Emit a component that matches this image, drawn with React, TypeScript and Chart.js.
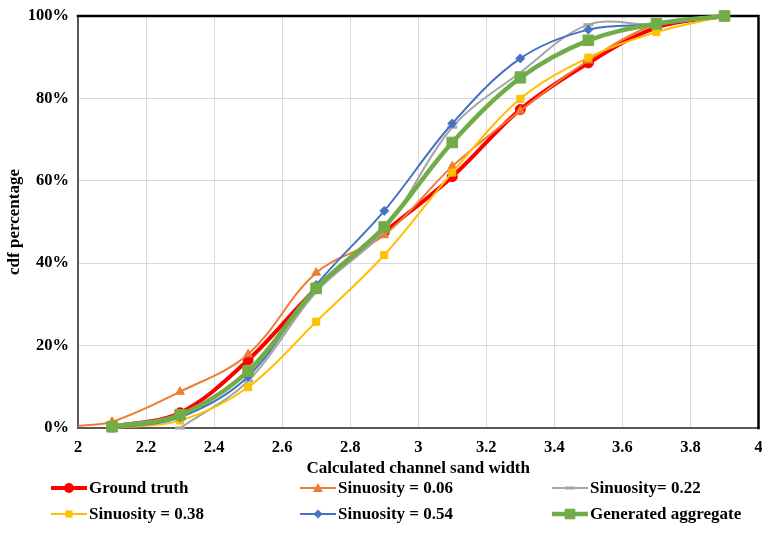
import React, { useEffect, useRef } from "react";
import { Chart, registerables } from "chart.js";

Chart.register(...registerables);

const FONT = '"Liberation Serif", "Times New Roman", serif';

// x positions of the data points
const xMain = [2.1, 2.3, 2.5, 2.7, 2.9, 3.1, 3.3, 3.5, 3.7, 3.9];
const xOrange = [2.0, 2.1, 2.3, 2.5, 2.7, 2.9, 3.1, 3.3, 3.5, 3.7, 3.9];
const xGray = [2.3, 2.5, 2.7, 2.9, 3.1, 3.3, 3.5, 3.7, 3.9];

// cdf values (%)
const groundTruth = [0.3, 3.7, 16.5, 33.8, 47.5, 61.0, 77.3, 88.6, 97.2, 100];
const sinuosity006 = [0.5, 1.5, 8.8, 17.9, 37.7, 46.8, 63.5, 77.0, 89.2, 98.0, 100];
const sinuosity022 = [0, 11.4, 33.0, 48.0, 73.0, 86.3, 97.9, 98.0, 100];
const sinuosity038 = [0, 1.8, 9.9, 25.8, 42.0, 62.0, 79.9, 89.9, 96.1, 100];
const sinuosity054 = [0, 2.6, 12.5, 34.7, 52.7, 73.9, 89.7, 96.7, 98.0, 100];
const aggregate = [0.3, 3.2, 13.8, 33.9, 48.8, 69.3, 85.0, 94.1, 98.1, 100];

const xTicks = [2, 2.2, 2.4, 2.6, 2.8, 3, 3.2, 3.4, 3.6, 3.8, 4];
const yTicks = [0, 20, 40, 60, 80, 100];

const pts = (xs: number[], ys: number[]) => xs.map((x, i) => ({ x, y: ys[i] }));

type Series = {
  label: string;
  color: string;
  width: number;
  style: string;
  radius: number;
  xs: number[];
  ys: number[];
};

const series: Series[] = [
  { label: "Ground truth", color: "#FF0000", width: 4, style: "circle", radius: 5, xs: xMain, ys: groundTruth },
  { label: "Sinuosity = 0.06", color: "#ED7D31", width: 2, style: "triangle", radius: 5, xs: xOrange, ys: sinuosity006 },
  { label: "Sinuosity= 0.22", color: "#A5A5A5", width: 2, style: "line", radius: 5, xs: xGray, ys: sinuosity022 },
  { label: "Sinuosity = 0.38", color: "#FFC000", width: 2, style: "rect", radius: 5, xs: xMain, ys: sinuosity038 },
  { label: "Sinuosity = 0.54", color: "#4472C4", width: 2, style: "rectRot", radius: 4.5, xs: xMain, ys: sinuosity054 },
  { label: "Generated aggregate", color: "#70AD47", width: 4.5, style: "rect", radius: 7.5, xs: xMain, ys: aggregate },
];

const borderPlugin = {
  id: "plotBorder",
  beforeDatasetsDraw(chart: any) {
    const { ctx, chartArea: a } = chart;
    ctx.save();
    ctx.lineCap = "square";
    ctx.lineWidth = 2;
    ctx.strokeStyle = "#595959";
    ctx.beginPath();
    ctx.moveTo(a.left, a.top);
    ctx.lineTo(a.left, a.bottom);
    ctx.lineTo(a.right, a.bottom);
    ctx.stroke();
    ctx.strokeStyle = "#000000";
    ctx.lineWidth = 2.5;
    ctx.beginPath();
    ctx.moveTo(a.left, a.top);
    ctx.lineTo(a.right, a.top);
    ctx.lineTo(a.right, a.bottom);
    ctx.stroke();
    ctx.restore();
  },
};

function LegendMarker({ s }: { s: Series }) {
  const cx = 18;
  const cy = 8;
  let marker: any = null;
  if (s.style === "circle") marker = <circle cx={cx} cy={cy} r={5} fill={s.color} />;
  else if (s.style === "triangle")
    marker = <polygon points={`${cx},${cy - 5} ${cx + 5},${cy + 4} ${cx - 5},${cy + 4}`} fill={s.color} />;
  else if (s.style === "line")
    marker = <rect x={cx - 5} y={cy - 1.5} width={10} height={3} fill={s.color} />;
  else if (s.style === "rectRot")
    marker = <polygon points={`${cx},${cy - 4.5} ${cx + 4.5},${cy} ${cx},${cy + 4.5} ${cx - 4.5},${cy}`} fill={s.color} />;
  else {
    const h = s.radius * Math.SQRT1_2;
    marker = <rect x={cx - h} y={cy - h} width={2 * h} height={2 * h} fill={s.color} />;
  }
  return (
    <svg width={36} height={16} style={{ display: "block" }}>
      <line x1={0} y1={cy} x2={36} y2={cy} stroke={s.color} strokeWidth={s.width} />
      {marker}
    </svg>
  );
}

const legendCols = [51, 300, 552];
const legendRows = [488, 514];

export default function App() {
  const ref = useRef<HTMLCanvasElement>(null);
  useEffect(() => {
    const chart = new Chart(ref.current!, {
      type: "line",
      data: {
        datasets: series.map((s, i) => ({
          label: s.label,
          data: pts(s.xs, s.ys),
          borderColor: s.color,
          backgroundColor: s.color,
          borderWidth: s.width,
          pointStyle: s.style as any,
          pointRadius: s.xs.map((x) => (x === 2.0 ? 0 : s.radius)),
          pointBorderWidth: s.style === "line" ? 3 : 1,
          pointBorderColor: s.color,
          pointBackgroundColor: s.color,
          tension: 0.35,
          fill: false,
          order: series.length - 1 - i,
          clip: 8,
        })),
      },
      options: {
        animation: false,
        responsive: true,
        maintainAspectRatio: false,
        layout: { padding: { top: 16, right: 4, left: 0, bottom: 56 } },
        plugins: { legend: { display: false }, tooltip: { enabled: false } },
        scales: {
          x: {
            type: "linear",
            min: 2,
            max: 4,
            afterBuildTicks: (s: any) => {
              s.ticks = xTicks.map((v) => ({ value: v }));
            },
            afterFit: (s: any) => {
              s.height = 52;
              s.paddingLeft = 0;
              s.paddingRight = 0;
            },
            ticks: {
              color: "#000",
              font: { family: FONT, size: 16.5, weight: "bold" },
              padding: 10,
              maxRotation: 0,
              autoSkip: false,
              callback: (v: any) => String(Math.round(Number(v) * 10) / 10),
            },
            grid: { color: "#d9d9d9", lineWidth: 1, drawTicks: false },
            border: { display: false },
            title: {
              display: true,
              text: "Calculated channel sand width",
              color: "#000",
              font: { family: FONT, size: 17, weight: "bold" },
              padding: { top: 0, bottom: 1 },
            },
          },
          y: {
            type: "linear",
            min: 0,
            max: 100,
            afterBuildTicks: (s: any) => {
              s.ticks = yTicks.map((v) => ({ value: v }));
            },
            afterFit: (s: any) => {
              s.width = 78;
              s.paddingTop = 0;
              s.paddingBottom = 0;
            },
            ticks: {
              color: "#000",
              font: { family: FONT, size: 16.5, weight: "bold" },
              padding: 9,
              callback: (v: any) => v + "%",
            },
            grid: { color: "#d9d9d9", lineWidth: 1, drawTicks: false },
            border: { display: false },
            title: {
              display: true,
              text: "cdf percentage",
              color: "#000",
              font: { family: FONT, size: 17, weight: "bold" },
              padding: { top: 4, bottom: 0 },
            },
          },
        },
      },
      plugins: [borderPlugin],
    });
    return () => chart.destroy();
  }, []);

  return (
    <div style={{ position: "absolute", left: 0, top: 0, width: 762, height: 536, background: "#fff", overflow: "hidden" }}>
      <div style={{ position: "absolute", left: 0, top: 0, width: 767, height: 536 }}>
        <canvas ref={ref} />
      </div>
      {series.map((s, i) => {
        const col = i % 3;
        const row = Math.floor(i / 3);
        return (
          <div
            key={s.label}
            style={{
              position: "absolute",
              left: legendCols[col],
              top: legendRows[row] - 10,
              height: 20,
              display: "flex",
              alignItems: "center",
              fontFamily: FONT,
              fontWeight: "bold",
              fontSize: 17,
              color: "#000",
              whiteSpace: "nowrap",
            }}
          >
            <LegendMarker s={s} />
            <span style={{ marginLeft: 2 }}>{s.label}</span>
          </div>
        );
      })}
    </div>
  );
}
